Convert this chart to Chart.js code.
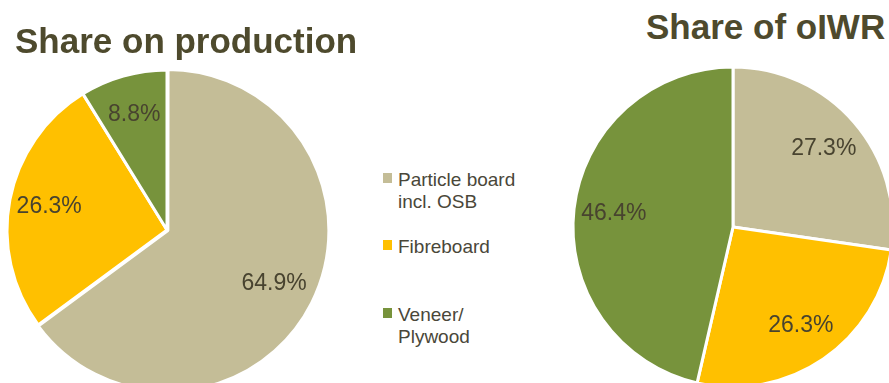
<!DOCTYPE html>
<html>
<head>
<meta charset="utf-8">
<script src="https://cdn.jsdelivr.net/npm/chart.js@4/dist/chart.umd.min.js"></script>
<style>
    body {
        margin: 0;
        width: 889px;
        height: 383px;
        overflow: hidden;
        background: #ffffff;
        position: relative;
        font-family: "Liberation Sans", Arial, sans-serif;
    }
    canvas {
        position: absolute;
    }
    .title {
        position: absolute;
        font-size: 35px;
        font-weight: bold;
        line-height: 35px;
        color: #4e4a2d;
        white-space: nowrap;
    }
    #legend {
        position: absolute;
        left: 383px;
        top: 0;
    }
    .legend-item {
        position: absolute;
        left: 0;
        font-size: 19px;
        line-height: 22px;
        color: #4a4739;
        white-space: nowrap;
    }
    .legend-item .box {
        position: absolute;
        left: 0;
        top: 4px;
        width: 9px;
        height: 10px;
    }
    .legend-item .text {
        padding-left: 15px;
    }
</style>
</head>
<body>

<canvas id="productionChart" width="360" height="360" style="left:-13px; top:50px;"></canvas>
<canvas id="oiwrChart" width="360" height="360" style="left:553px; top:47px;"></canvas>

<div class="title" style="left:15px; top:23px;">Share on production</div>
<div class="title" style="left:646px; top:9px;">Share of oIWR</div>

<div id="legend"></div>

<script>
// Données du graphique
const categories = [
    ['Particle board', 'incl. OSB'],
    ['Fibreboard'],
    ['Veneer/', 'Plywood']
];
const productionShares = [64.9, 26.3, 8.8];
const oiwrShares = [27.3, 26.3, 46.4];

const sliceColors = ['#c4bd97', '#ffc000', '#77933c'];
const labelColor = '#48432f';

// Étiquettes de pourcentage dans les parts
const sliceLabels = {
    id: 'sliceLabels',
    afterDatasetsDraw(chart) {
        const ctx = chart.ctx;
        const meta = chart.getDatasetMeta(0);
        const values = chart.data.datasets[0].data;
        ctx.save();
        ctx.font = '23px "Liberation Sans", Arial, sans-serif';
        ctx.fillStyle = labelColor;
        ctx.textAlign = 'center';
        ctx.textBaseline = 'middle';
        meta.data.forEach((arc, i) => {
            const p = arc.getProps(['x', 'y', 'startAngle', 'endAngle', 'outerRadius'], true);
            const mid = (p.startAngle + p.endAngle) / 2;
            const r = p.outerRadius * 0.75;
            ctx.fillText(values[i].toFixed(1) + '%', p.x + Math.cos(mid) * r, p.y + Math.sin(mid) * r);
        });
        ctx.restore();
    }
};

function makePie(id, values, offsets) {
    const el = document.getElementById(id);
    return new Chart(el.getContext('2d'), {
        type: 'pie',
        data: {
            labels: categories.map(c => c.join(' ')),
            datasets: [{
                data: values,
                backgroundColor: sliceColors,
                borderColor: '#ffffff',
                borderWidth: 3,
                offset: offsets,
                radius: 160
            }]
        },
        options: {
            responsive: false,
            animation: false,
            devicePixelRatio: 1,
            layout: { padding: 0 },
            plugins: {
                legend: { display: false },
                tooltip: { enabled: false }
            }
        },
        plugins: [sliceLabels]
    });
}

makePie('productionChart', productionShares, [4, 0, 0]);
makePie('oiwrChart', oiwrShares, [0, 0, 0]);

// Légende commune entre les deux graphiques
const legendTops = [169, 236, 304];
const legend = document.getElementById('legend');
categories.forEach((lines, i) => {
    const item = document.createElement('div');
    item.className = 'legend-item';
    item.style.top = legendTops[i] + 'px';
    item.innerHTML = '<span class="box" style="background:' + sliceColors[i] + '"></span>' +
        '<div class="text">' + lines.join('<br>') + '</div>';
    legend.appendChild(item);
});
</script>
</body>
</html>
